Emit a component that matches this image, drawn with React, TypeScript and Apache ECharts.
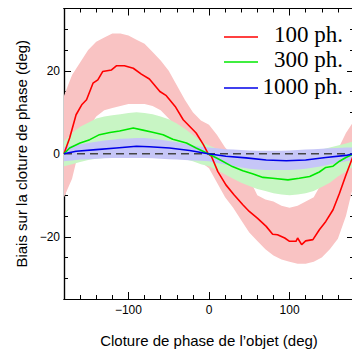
import React, { useEffect, useRef } from "react";
import * as echarts from "echarts";

// ---- Data ----
const X_MAJOR = [-100, 0, 100];
const Y_MAJOR = [-20, 0, 20];

const BAND_X = [-180, -170, -160, -150, -140, -130, -120, -110, -100, -90, -80, -70, -60, -50, -40, -30, -20, -10, 0,
  10, 20, 30, 40, 50, 60, 70, 80, 90, 100, 110, 120, 130, 140, 150, 160, 170, 180];

const PINK_HI = [14, 19, 22, 25, 27, 28, 29, 29, 28.5, 27.5, 26.5, 24.5, 22.5, 20, 16.5, 13, 10, 8, 7,
  4.5, 1.5, -0.5, -3, -6, -10, -11, -11.5, -12.5, -13, -12.5, -11.5, -10.5, -7, -3, 1, 5, 8];
const PINK_LO = [-10.5, -6, 2, 6, 9, 10.5, 11, 11.5, 12, 12, 12, 11.5, 10.5, 8.5, 6, 3, 1, -2, -3.5,
  -7, -10.5, -13, -16, -19, -21, -23, -24.5, -25.5, -26, -26.5, -26.5, -26, -25, -23, -20.5, -15, -7];

const GREEN_HI = [3, 5, 6.5, 7.5, 8.5, 9, 9.3, 9.5, 9.8, 10, 9.8, 9.5, 9, 8.3, 7.3, 6, 4.5, 3, 2,
  1.2, 0.8, 0.5, 0.3, 0.2, 0.2, 0.2, 0.2, 0.3, 0.4, 0.5, 0.6, 0.8, 1, 1.5, 2, 2.5, 3];
const GREEN_LO = [-3, -2.5, -2, -1.5, -1.2, -1, -0.8, -0.7, -0.6, -0.5, -0.5, -0.5, -0.6, -0.8, -1, -1.3, -1.8, -2.5, -3,
  -4, -5, -6, -7, -7.8, -8.5, -9, -9.5, -9.8, -10, -9.8, -9.5, -9, -8, -7, -5.5, -4.3, -3];

const BLUE_HI = [1.5, 2, 2.3, 2.6, 2.9, 3.2, 3.4, 3.6, 3.7, 3.8, 3.8, 3.6, 3.4, 3.1, 2.8, 2.4, 2, 1.7, 1.5,
  1.3, 1.1, 1, 0.9, 0.8, 0.7, 0.7, 0.7, 0.7, 0.8, 0.9, 1, 1.1, 1.2, 1.3, 1.4, 1.5, 1.5];
const BLUE_LO = [-1.8, -1.6, -1.4, -1.3, -1.2, -1.1, -1, -1, -1, -1, -1, -1.1, -1.2, -1.3, -1.4, -1.5, -1.6, -1.7, -1.8,
  -2.2, -2.6, -3, -3.3, -3.6, -3.8, -3.9, -3.9, -3.9, -3.9, -3.8, -3.6, -3.3, -3, -2.6, -2.2, -1.8, -1.5];

const RED_CURVE = [[-180, 0], [-173, 3.8], [-165, 9.4], [-158, 11.8], [-152, 13], [-144, 17], [-138, 17.8], [-132, 19.8],
  [-121, 20.2], [-115, 21.2], [-105, 21.2], [-94, 20.6], [-84, 19.2], [-74, 18], [-61, 15], [-53, 14], [-42, 11.4],
  [-32, 8.2], [-16, 5], [-7, 2.2], [-1, 0], [3, -0.6], [11, -4.3], [21, -7.5], [31, -9.9], [42, -12.3], [50, -13.9],
  [60, -15.5], [71, -17.5], [79, -19.4], [85, -19.5], [94, -20.3], [100, -21.1], [108, -21.1], [110, -20.3],
  [115, -21.9], [120, -21], [129, -20.7], [137, -18.3], [145, -16.3], [154, -13.5], [162, -9.5], [170, -5.1], [180, 0]];

const GREEN_CURVE = [[-180, 0], [-173, 1.4], [-160, 2.6], [-148, 3.4], [-136, 4.6], [-123, 5.1], [-111, 5.5], [-94, 6.2],
  [-82, 5.7], [-70, 5.2], [-57, 4.6], [-45, 3.5], [-28, 2.6], [-16, 1.4], [-1, 0], [13, -1.4], [29, -3.1], [42, -4.1],
  [54, -4.8], [67, -5.7], [79, -5.9], [98, -6.3], [112, -5.9], [125, -5.5], [137, -4.4], [145, -3.3], [154, -3.0],
  [162, -1.8], [170, -0.9], [180, 0]];

const BLUE_CURVE = [[-180, 0], [-165, 0.6], [-140, 1.0], [-115, 1.4], [-90, 1.8], [-74, 1.7], [-49, 1.4], [-24, 0.8],
  [-1, 0], [21, -0.6], [46, -1.0], [71, -1.5], [96, -1.7], [120, -1.5], [145, -0.9], [170, -0.4], [180, 0]];

const ZERO_LINE = [[-180, 0], [180, 0]];

const LEGEND = ["100 ph.", "300 ph.", "1000 ph."];
const X_TITLE = "Cloture de phase de l\u2019objet (deg)";
const Y_TITLE = "Biais sur la cloture de phase (deg)";

const SANS = "'Liberation Sans', Arial, sans-serif";
const SERIF = "'Liberation Serif', 'Times New Roman', serif";

const fmt = (v: number) => (v < 0 ? "\u2212" + Math.abs(v) : String(v));

function band(lo: number[], hi: number[], color: string) {
  const data = BAND_X.map((x, i) => [x, lo[i], hi[i]]);
  return {
    type: "custom",
    coordinateSystem: "cartesian2d",
    xAxisIndex: 0,
    yAxisIndex: 0,
    silent: true,
    clip: true,
    data,
    encode: { x: 0, y: [1, 2] },
    renderItem: (params: any, api: any) => {
      if (params.dataIndex !== 0) return null;
      const top = data.map((d) => api.coord([d[0], d[2]]));
      const bottom = data.slice().reverse().map((d) => api.coord([d[0], d[1]]));
      return { type: "polygon", shape: { points: top.concat(bottom) }, style: { fill: color } };
    },
  };
}

function line(data: number[][], color: string, width = 1.6, dashed?: number[]) {
  return {
    type: "line",
    xAxisIndex: 0,
    yAxisIndex: 0,
    data,
    showSymbol: false,
    symbol: "none",
    silent: true,
    lineStyle: { color, width, type: dashed ? dashed : "solid" },
  };
}

export default function App() {
  const ref = useRef<HTMLDivElement>(null);
  useEffect(() => {
    if (!ref.current) return;
    const chart = echarts.init(ref.current, undefined, { renderer: "svg" });
    const axisLine = { show: true, onZero: false, lineStyle: { color: "#000", width: 1.2 } };
    const tickStyle = { color: "#000", width: 1 };
    const xBase = { type: "value", min: -180, max: 180, interval: 20, splitLine: { show: false }, axisLine };
    const yBase = { type: "value", min: -35, max: 35, interval: 5, splitLine: { show: false }, axisLine };
    const labelStyle = { fontFamily: SANS, fontSize: 12, color: "#000", formatter: fmt };
    chart.setOption({
      animation: false,
      grid: { left: 64, right: 8, top: 8.5, bottom: 55 },
      xAxis: [
        {
          ...xBase, position: "bottom",
          axisTick: { inside: true, length: 7, customValues: X_MAJOR, lineStyle: tickStyle },
          axisLabel: { ...labelStyle, customValues: X_MAJOR, margin: 5 },
          name: X_TITLE, nameLocation: "middle", nameGap: 34,
          nameTextStyle: { fontFamily: SANS, fontSize: 15, color: "#000" },
        },
        { ...xBase, position: "bottom", axisTick: { inside: true, length: 4, lineStyle: tickStyle }, axisLabel: { show: false } },
        { ...xBase, position: "top", axisTick: { inside: true, length: 7, customValues: X_MAJOR, lineStyle: tickStyle }, axisLabel: { show: false } },
        { ...xBase, position: "top", axisTick: { inside: true, length: 4, lineStyle: tickStyle }, axisLabel: { show: false } },
      ],
      yAxis: [
        {
          ...yBase, position: "left",
          axisTick: { inside: true, length: 7, customValues: Y_MAJOR, lineStyle: tickStyle },
          axisLabel: { ...labelStyle, customValues: Y_MAJOR, margin: 4 },
          name: Y_TITLE, nameLocation: "middle", nameGap: 35, nameRotate: 90,
          nameTextStyle: { fontFamily: SANS, fontSize: 15, color: "#000" },
        },
        { ...yBase, position: "left", axisTick: { inside: true, length: 4, lineStyle: tickStyle }, axisLabel: { show: false } },
        { ...yBase, position: "right", axisTick: { inside: true, length: 7, customValues: Y_MAJOR, lineStyle: tickStyle }, axisLabel: { show: false } },
        { ...yBase, position: "right", axisTick: { inside: true, length: 4, lineStyle: tickStyle }, axisLabel: { show: false } },
      ],
      series: [
        band(PINK_LO, PINK_HI, "#f9c3c3"),
        band(GREEN_LO, GREEN_HI, "#c8f5c4"),
        band(BLUE_LO, BLUE_HI, "#c6c6f7"),
        line(ZERO_LINE, "#444", 1.6, [8, 5]),
        line(RED_CURVE, "#ff0000"),
        line(GREEN_CURVE, "#00e800"),
        line(BLUE_CURVE, "#0000e8"),
      ],
      graphic: [
        { type: "line", shape: { x1: 224, y1: 37, x2: 258, y2: 37 }, style: { stroke: "#ff0000", lineWidth: 1.6 } },
        { type: "line", shape: { x1: 224, y1: 62, x2: 258, y2: 62 }, style: { stroke: "#00e800", lineWidth: 1.6 } },
        { type: "line", shape: { x1: 224, y1: 88, x2: 258, y2: 88 }, style: { stroke: "#0000e8", lineWidth: 1.6 } },
        { type: "text", x: 343, y: 34, style: { text: LEGEND[0], font: `23px ${SERIF}`, fill: "#000", align: "right", verticalAlign: "middle" } },
        { type: "text", x: 343, y: 59.5, style: { text: LEGEND[1], font: `23px ${SERIF}`, fill: "#000", align: "right", verticalAlign: "middle" } },
        { type: "text", x: 343, y: 86, style: { text: LEGEND[2], font: `23px ${SERIF}`, fill: "#000", align: "right", verticalAlign: "middle" } },
      ],
    });
    return () => chart.dispose();
  }, []);
  return (
    <div style={{ position: "absolute", left: 0, top: 0, width: 352, height: 354, overflow: "hidden", background: "#fff" }}>
      <div ref={ref} style={{ width: 362, height: 354 }} />
    </div>
  );
}
